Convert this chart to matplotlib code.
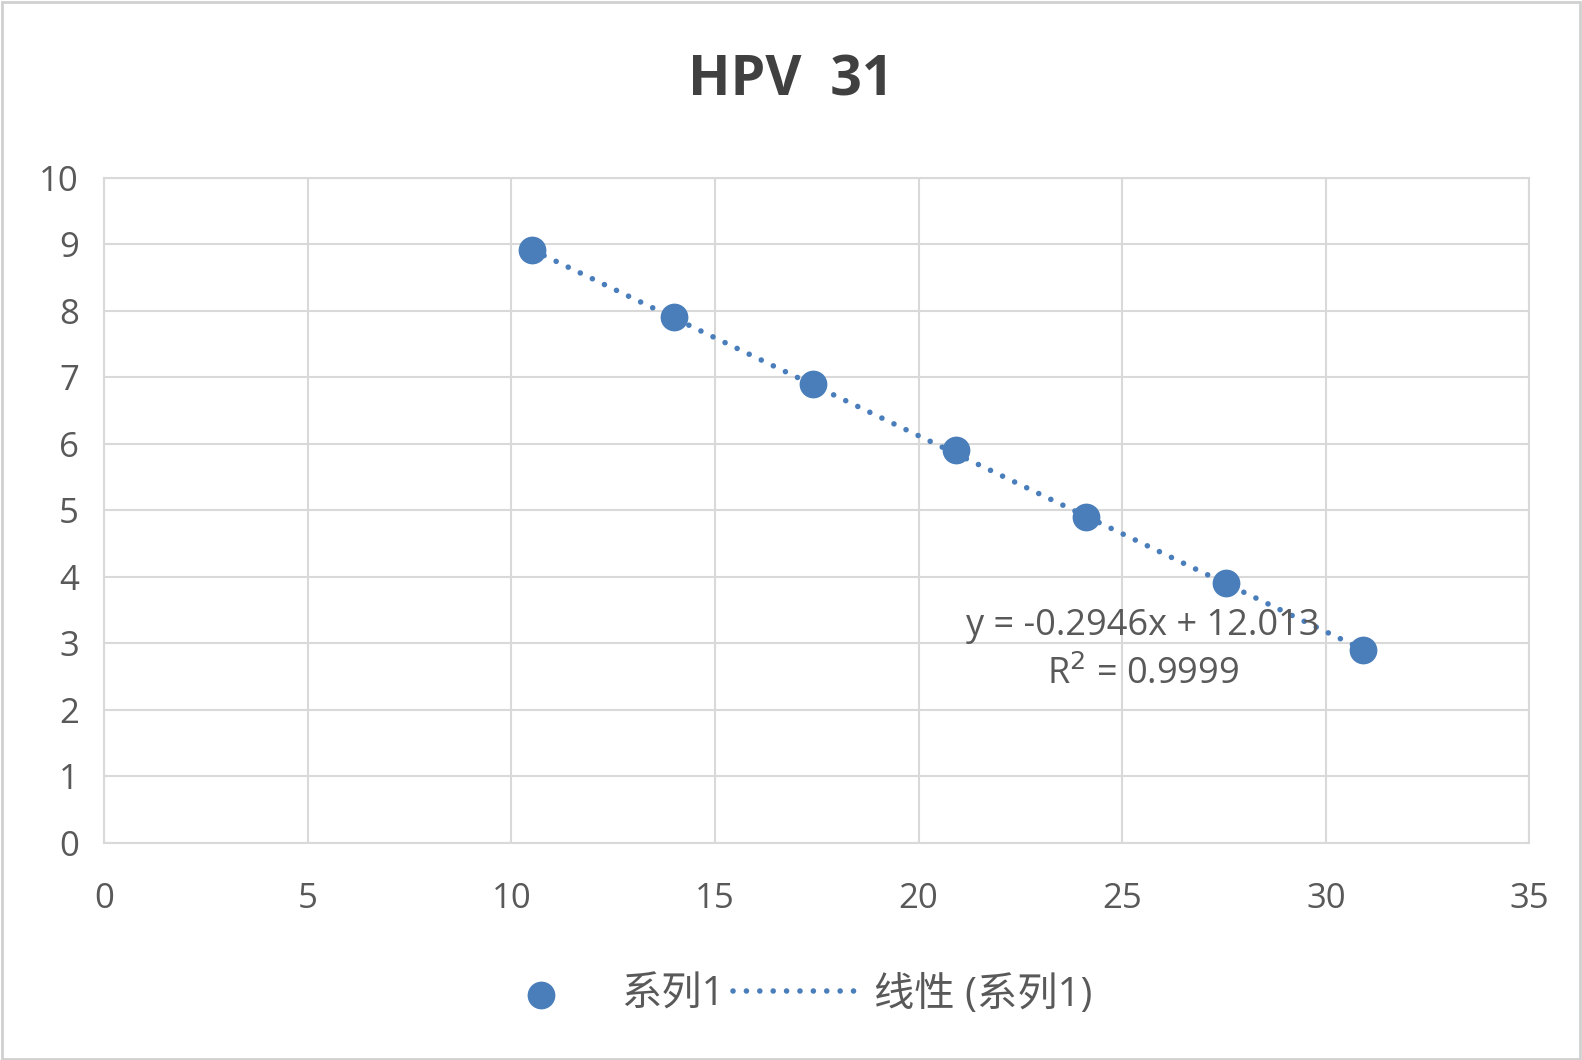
import numpy as np
import matplotlib
matplotlib.use("Agg")
import matplotlib.pyplot as plt
from matplotlib.patches import Rectangle

plt.rcParams['font.family'] = ['Open Sans', 'Noto Sans CJK SC', 'DejaVu Sans']

# data
x_vals = [10.51, 14.0, 17.40, 20.92, 24.12, 27.54, 30.91]
y_vals = [8.91, 7.91, 6.90, 5.90, 4.90, 3.90, 2.90]
slope, intercept = -0.2946, 12.013
title = "HPV  31"
series_name = "系列1"
trend_name = "线性 (系列1)"

blue = '#4A7EBB'
grid_c = '#D9D9D9'
text_c = '#595959'

fig = plt.figure(figsize=(15.82, 10.6), dpi=100)
fig.patches.append(Rectangle((0.001, 0.001), 0.998, 0.997, transform=fig.transFigure,
                             fill=False, edgecolor='#D0D0D0', linewidth=2))
ax = fig.add_axes([0.0657, 0.2048, 0.9011, 0.6276])

xs = np.array([min(x_vals), max(x_vals)])
trend, = ax.plot(xs, slope * xs + intercept, linestyle=(0, (0.01, 2.4)), color=blue,
                 linewidth=4, dash_capstyle='round', label=trend_name, zorder=2)
pts = ax.scatter(x_vals, y_vals, s=20 ** 2, color=blue, label=series_name, zorder=3,
                 linewidths=0)

ax.set_xlim(0, 35)
ax.set_ylim(0, 10)
ax.set_xticks(range(0, 36, 5))
ax.set_yticks(range(0, 11))
ax.grid(True, color=grid_c, linewidth=1.5)
ax.set_axisbelow(True)
for s in ax.spines.values():
    s.set_color(grid_c)
    s.set_linewidth(1.5)
ax.tick_params(length=0, labelsize=25, colors=text_c)
ax.tick_params(axis='x', pad=28)
ax.tick_params(axis='y', pad=18)

ax.text(25.5, 3.26, f"y = {slope:.4f}x + {intercept:.3f}", ha='center', va='center',
        fontsize=26, color=text_c)
ax.text(25.5, 2.53, "R$^2$ = 0.9999", ha='center', va='center', fontsize=26, color=text_c)

fig.text(0.4997, 0.924, title, ha='center', va='center', fontsize=40, fontweight='bold',
         color='#404040')

fig.legend(handles=[pts, trend], labels=[series_name, trend_name], loc='center',
           bbox_to_anchor=(0.497, 0.061), ncol=2, frameon=False, fontsize=29,
           labelcolor=text_c, handlelength=3.0, columnspacing=0.2, handletextpad=0.5)

fig.savefig('out.png', dpi=100)
